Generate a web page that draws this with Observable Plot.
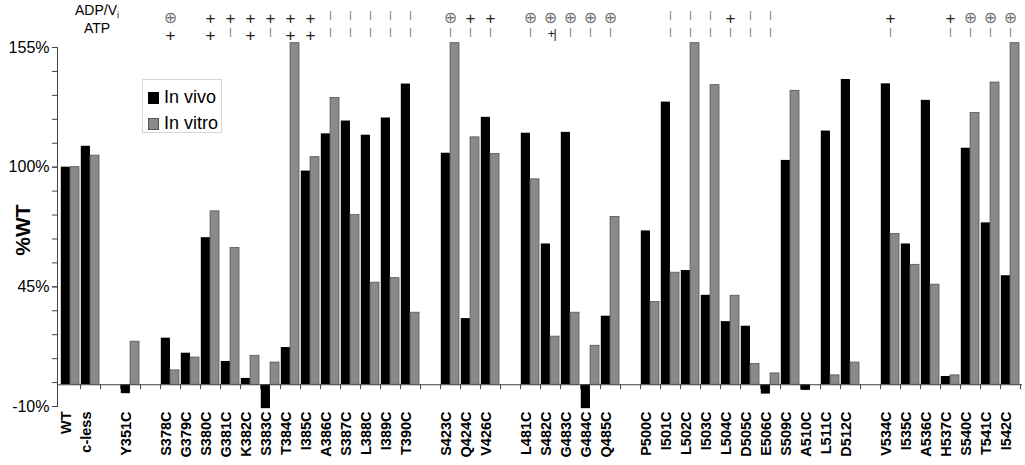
<!DOCTYPE html>
<html><head><meta charset="utf-8">
<script src="https://cdn.jsdelivr.net/npm/d3@7"></script>
<script src="https://cdn.jsdelivr.net/npm/@observablehq/plot@0.6"></script>
<style>
body{margin:0;background:#fff;font-family:"Liberation Sans",Arial,sans-serif;}
#wrap{position:relative;width:1025px;height:465px;overflow:hidden;}
.ov{position:absolute;transform:translate(-50%,-50%);white-space:nowrap;color:#000;}
#legend{position:absolute;left:142px;top:79px;width:80px;height:54px;border:1px solid #d8d8d8;background:#fff;box-sizing:border-box;}
#legend .row{position:absolute;left:5px;font-size:18px;line-height:18px;}
#legend .sw{display:inline-block;width:11px;height:12px;margin-right:5px;vertical-align:-1px;box-sizing:border-box;}
</style></head><body><div id="wrap"></div>
<script>
// ---- data ----
const categories = ["WT","c-less",null,"Y351C",null,
  "S378C","G379C","S380C","G381C","K382C","S383C","T384C","I385C","A386C","S387C","L388C","I389C","T390C",null,
  "S423C","Q424C","V426C",null,
  "L481C","S482C","G483C","G484C","Q485C",null,
  "P500C","I501C","L502C","I503C","L504C","D505C","E506C","S509C","A510C","L511C","D512C",null,
  "V534C","I535C","A536C","H537C","S540C","T541C","I542C"];
const inVivo = [100,109.6,null,-4.1,null,
  21.4,14.5,67.6,10.7,2.9,-11,17.1,98.2,115.3,121.2,114.7,122.6,138.2,null,
  106.4,30.4,122.9,null,
  115.6,64.7,116.0,-11,31.5,null,
  70.7,129.9,52.5,41.1,29.0,26.9,-4.3,103.1,-2.6,116.6,140.3,null,
  138.3,64.7,130.7,3.8,108.7,74.4,50.1];
const inVitro = [100,105.3,null,19.8,null,
  6.6,12.5,79.7,62.9,13.3,10.2,157,104.6,131.8,78.0,46.9,49.0,33.1,null,
  157,113.7,106.1,null,
  94.4,22.1,33.1,17.9,77.1,null,
  38.0,51.5,157,137.7,40.9,9.5,5.2,135.1,null,4.3,10.2,null,
  69.3,55.1,46.0,4.3,124.9,138.9,157];
const adpVi = ["","",null,"",null,
  "⊕","","+","+","+","+","+","+","|","|","|","|","|",null,
  "⊕","+","+",null,
  "⊕","⊕","⊕","⊕","⊕",null,
  "","|","|","|","+","|","|","","","","",null,
  "+","","","+","⊕","⊕","⊕"];
const atp = ["","",null,"",null,
  "+","","+","|","+","|","+","+","|","|","|","|","|",null,
  "|","|","|",null,
  "|","+|","|","|","|",null,
  "","|","|","|","|","|","|","","","","",null,
  "|","","","|","|","|","|"];
const yTicksMinor = d3.range(-10, 156, 11);
const yTicksMajor = [-10, 45, 100, 155];

// ---- build ----
const keys = categories.map((c, i) => c ?? `gap${i}`);
const rows = keys.map((k, i) => ({key: k, label: categories[i], vivo: inVivo[i], vitro: inVitro[i], adp: adpVi[i], atp: atp[i]}));
const real = rows.filter(d => d.label);
const W = 1025, H = 465, mL = 57, mR = 3, mT = 47, mB = 59;
const bw = (W - mL - mR) / keys.length;

const plusStyle = {fontSize: 17, fill: "#222"};
const barStyle = {fontSize: 8.5, fill: "#8a8a8a", fontWeight: "bold"};
const circStyle = {fontSize: 16, fill: "#777", fontFamily: "DejaVu Sans"};
function symMarks(field, dy) {
  const has = s => real.filter(d => d[field] === s);
  return [
    Plot.text(has("+"), {x: "key", text: () => "+", frameAnchor: "top", dy, ...plusStyle}),
    Plot.text(has("|"), {x: "key", text: () => "|", frameAnchor: "top", dy, ...barStyle}),
    Plot.text(has("⊕"), {x: "key", text: () => "⊕", frameAnchor: "top", dy, ...circStyle}),
    Plot.text(has("+|"), {x: "key", text: () => "+|", frameAnchor: "top", dy: dy + 1, dx: 1, fontSize: 12.5, fill: "#222", className: "plusbar"})
  ];
}

const chart = Plot.plot({
  width: W, height: H, marginTop: mT, marginBottom: mB, marginLeft: mL, marginRight: mR,
  style: {fontFamily: "Liberation Sans, Arial, sans-serif", background: "#fff", color: "#000", overflow: "visible"},
  x: {type: "band", domain: keys, padding: 0, axis: null},
  y: {domain: [-10, 155]},
  marks: [
    Plot.barY(real.filter(d => d.vivo != null), {x: "key", y: "vivo", fill: "#000", insetLeft: 0.8, insetRight: bw / 2}),
    Plot.barY(real.filter(d => d.vitro != null), {x: "key", y: "vitro", fill: "#8a8a8a", stroke: "#555", strokeWidth: 0.8, insetLeft: bw / 2, insetRight: 1}),
    Plot.ruleY([0], {stroke: "#444", strokeWidth: 1}),
    Plot.ruleX(keys, {x: d => d, y1: 0, y2: 0, insetBottom: -5, dx: bw / 2, stroke: "#444"}),
    Plot.frame({anchor: "left", stroke: "#444"}),
    Plot.axisY({ticks: yTicksMinor, tickFormat: () => "", tickSize: 5, stroke: "#444"}),
    Plot.axisY({ticks: yTicksMajor, tickFormat: d => d + "%", tickSize: 5, tickPadding: 3, fontSize: 16, stroke: "#444", label: null}),
    Plot.text(real, {x: "key", text: "label", frameAnchor: "bottom", dy: 5, rotate: -90, textAnchor: "end", fontWeight: "bold", fontSize: 14.5}),
    ...symMarks("adp", -36),
    ...symMarks("atp", -19)
  ]
});
d3.select(chart).selectAll(".plusbar text").attr("letter-spacing", "-1.5");

const wrap = document.getElementById("wrap");
wrap.appendChild(chart);
wrap.insertAdjacentHTML("beforeend", `
  <div class="ov" style="left:97px;top:11px;font-size:14px;">ADP/V<sub style="font-size:9px;">i</sub></div>
  <div class="ov" style="left:97px;top:28px;font-size:14px;">ATP</div>
  <div class="ov" style="left:23px;top:230px;font-size:21px;font-weight:bold;transform:translate(-50%,-50%) rotate(-90deg);">%WT</div>
  <div id="legend">
    <div class="row" style="top:8px;"><span class="sw" style="background:#000;"></span>In vivo</div>
    <div class="row" style="top:34px;"><span class="sw" style="background:#8a8a8a;border:1px solid #555;"></span>In vitro</div>
  </div>`);
</script>
</body></html>
